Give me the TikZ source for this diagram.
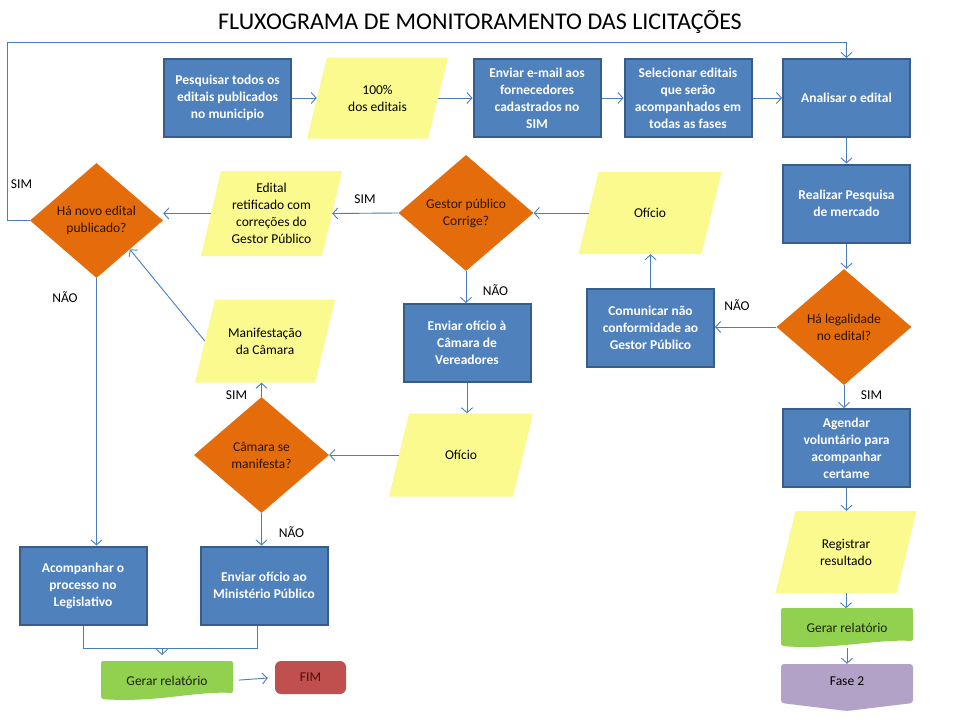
\documentclass[tikz,border=0pt]{standalone}
\usepackage{fontspec}
\setmainfont{Carlito}
\usetikzlibrary{shapes.geometric,arrows.meta,calc}
\definecolor{boxblue}{HTML}{4F81BD}
\definecolor{boxedge}{HTML}{385D8A}
\definecolor{lineblue}{HTML}{4A7EBB}
\definecolor{paray}{HTML}{FAFA8E}
\definecolor{decor}{HTML}{E46C0A}
\definecolor{dectext}{HTML}{2A1500}
\definecolor{docgreen}{HTML}{92D050}
\definecolor{doctext}{HTML}{1A240C}
\definecolor{fimred}{HTML}{C0504D}
\definecolor{fimtext}{HTML}{4A1010}
\definecolor{fasepurple}{HTML}{B3A2C7}
\newcommand{\parafill}[4]{\fill[paray] ({#1-#3/2-10},{#2+#4/2}) -- ({#1+#3/2-10},{#2+#4/2}) -- ({#1+#3/2+10},{#2-#4/2}) -- ({#1-#3/2+10},{#2-#4/2}) -- cycle;}
\begin{document}
\begin{tikzpicture}[x=1pt,y=-1pt,
  conn/.style={draw=lineblue, line width=0.9pt, -{Straight Barb[length=5pt,width=11pt]}},
  plain/.style={draw=lineblue, line width=0.9pt},
  proc/.style={rectangle, fill=boxblue, draw=boxedge, line width=2pt, minimum width=127pt, minimum height=78pt, text=white, font=\bfseries\fontsize{13.5}{17}\selectfont, align=center, inner sep=2pt},
  dec/.style={diamond, fill=decor, draw=none, minimum width=135pt, minimum height=116pt, inner sep=0pt, align=center, text=dectext, font=\fontsize{13.5}{17}\selectfont},
  paratext/.style={rectangle, minimum width=121pt, minimum height=82pt, inner sep=0pt, align=center, font=\fontsize{13.5}{17}\selectfont},
  doc/.style={rectangle, minimum width=132pt, minimum height=39pt, inner sep=0pt, align=center, text=doctext, font=\fontsize{13.5}{16}\selectfont},
  lbl/.style={font=\fontsize{13.5}{15}\selectfont, inner sep=0pt},
]
\useasboundingbox (0,0) rectangle (960,720);
\fill[white] (0,0) rectangle (960,720);

\node (title) at (480,22) {\fontsize{24}{28}\selectfont FLUXOGRAMA DE MONITORAMENTO DAS LICITAÇÕES};

% top row
\node[proc] (pesq) at (227.5,98) {Pesquisar todos os\\editais publicados\\no municipio};
\parafill{377.5}{98}{121}{81}
\node[paratext] (cem) at (377.5,98) {100\%\\dos editais};
\node[proc] (email) at (537,98) {Enviar e-mail aos\\fornecedores\\cadastrados no\\SIM};
\node[proc] (selec) at (688,98) {Selecionar editais\\que serão\\acompanhados em\\todas as fases};
\node[proc] (anal) at (846.5,98) {Analisar o edital};

% right column
\node[proc] (realiz) at (846.5,203.5) {Realizar Pesquisa\\de mercado};
\node[dec] (legal) at (844,327) {Há legalidade\\no edital?};
\node[proc] (agend) at (846.5,448) {Agendar\\voluntário para\\acompanhar\\certame};
\parafill{846}{552}{121}{82}
\node[paratext] (regist) at (846,552) {Registrar\\resultado};
\fill[docgreen, rounded corners=2pt] (781,608) -- (913,608) -- (913,641) .. controls (875,639) and (835,650) .. (781,646) -- cycle;
\node[doc] (gerar2) at (847,628) {Gerar relatório};
\fill[fasepurple, rounded corners=3pt] (781,664) -- (913,664) -- (913,703) -- (847,711) -- (781,703) -- cycle;
\node[doc, minimum height=34pt, text=black] (fase) at (847,681) {Fase 2};

% middle right
\node[proc] (comun) at (650.5,328) {Comunicar não\\conformidade ao\\Gestor Público};
\parafill{650}{213}{123}{82}
\node[paratext] (oficio1) at (650,213) {Ofício};
\node[dec] (gestor) at (466,213) {Gestor público\\Corrige?};
\parafill{271.5}{213.5}{121}{85}
\node[paratext, minimum height=85pt] (edital) at (271.5,213.5) {Edital\\retificado com\\correções do\\Gestor Público};
\node[dec, minimum width=133pt, minimum height=115pt] (novo) at (96.5,220.5) {Há novo edital\\publicado?};

\node[proc] (camara) at (467,343) {Enviar ofício à\\Câmara de\\Vereadores};
\parafill{461}{455}{124}{83}
\node[paratext, minimum width=124pt, minimum height=83pt] (oficio2) at (461,455) {Ofício};
\node[dec] (manif) at (261.5,455) {Câmara se\\manifesta?};
\parafill{265}{341}{120}{83}
\node[paratext, minimum width=120pt, minimum height=83pt] (manifest) at (265,341) {Manifestação\\da Câmara};

\node[proc] (acomp) at (83,585.5) {Acompanhar o\\processo no\\Legislativo};
\node[proc] (mp) at (264,585.5) {Enviar ofício ao\\Ministério Público};

\fill[docgreen, rounded corners=2pt] (101,661) -- (233,661) -- (233,693) .. controls (195,691) and (155,703) .. (101,699) -- cycle;
\node[doc] (gerar1) at (167,680.5) {Gerar relatório};
\node[rectangle, fill=fimred, rounded corners=6pt, minimum width=71pt, minimum height=33pt, inner sep=0pt, text=fimtext, font=\fontsize{13.5}{15}\selectfont] (fim) at (310.5,677.5) {FIM};

% labels
\node[lbl] (l1) at (21.5,184) {SIM};
\node[lbl] (l2) at (65,297) {NÃO};
\node[lbl] (l3) at (365,199) {SIM};
\node[lbl] (l4) at (495.5,290) {NÃO};
\node[lbl] (l5) at (737,305) {NÃO};
\node[lbl] (l6) at (236.5,395) {SIM};
\node[lbl] (l7) at (291.5,532) {NÃO};
\node[lbl] (l8) at (871.5,395) {SIM};

% connectors
\draw[conn] (pesq.east) -- (cem.west);
\draw[conn] (cem.east) -- (email.west);
\draw[conn] (email.east) -- (selec.west);
\draw[conn] (selec.east) -- (anal.west);
\draw[conn] (anal.south) -- (realiz.north);
\draw[conn] (realiz.south) -- (realiz.south |- legal.north);
\draw[conn] (legal.west) -- (legal.west -| comun.east);
\draw[conn] (comun.north) -- (comun.north |- oficio1.south);
\draw[conn] (oficio1.west) -- (gestor.east);
\draw[conn] (gestor.west) -- (edital.east);
\draw[conn] (edital.west) -- (edital.west -| novo.east);
\coordinate (tl) at (7,42);
\draw[conn] (novo.west) -| (tl) -| (anal.north);
\draw[conn] (novo.south) -- (novo.south |- acomp.north);
\draw[conn] (gestor.south) -- (gestor.south |- camara.north);
\draw[conn] (camara.south) -- (camara.south |- oficio2.north);
\draw[conn] (oficio2.west) -- (oficio2.west -| manif.east);
\draw[conn] (manif.north) -- (manif.north |- manifest.south);
\draw[conn] (manif.south) -- (manif.south |- mp.north);
\draw[conn] (manifest.west) -- (novo.south east);
\draw[conn] (legal.south) -- (legal.south |- agend.north);
\draw[conn] (agend.south) -- (agend.south |- regist.north);
\draw[conn] (regist.south) -- (regist.south |- gerar2.north);
\draw[conn] (gerar2.south) -- (fase.north);
\coordinate (join) at (162,648);
\coordinate (jr) at (257,648);
\draw[plain] (acomp.south) |- (join) -- (jr) -- (jr |- mp.south);
\draw[conn] (join) -- ++(0,7);
\draw[conn, shorten <=6pt, shorten >=7pt] (gerar1.east) -- (fim.west);
\end{tikzpicture}
\end{document}
